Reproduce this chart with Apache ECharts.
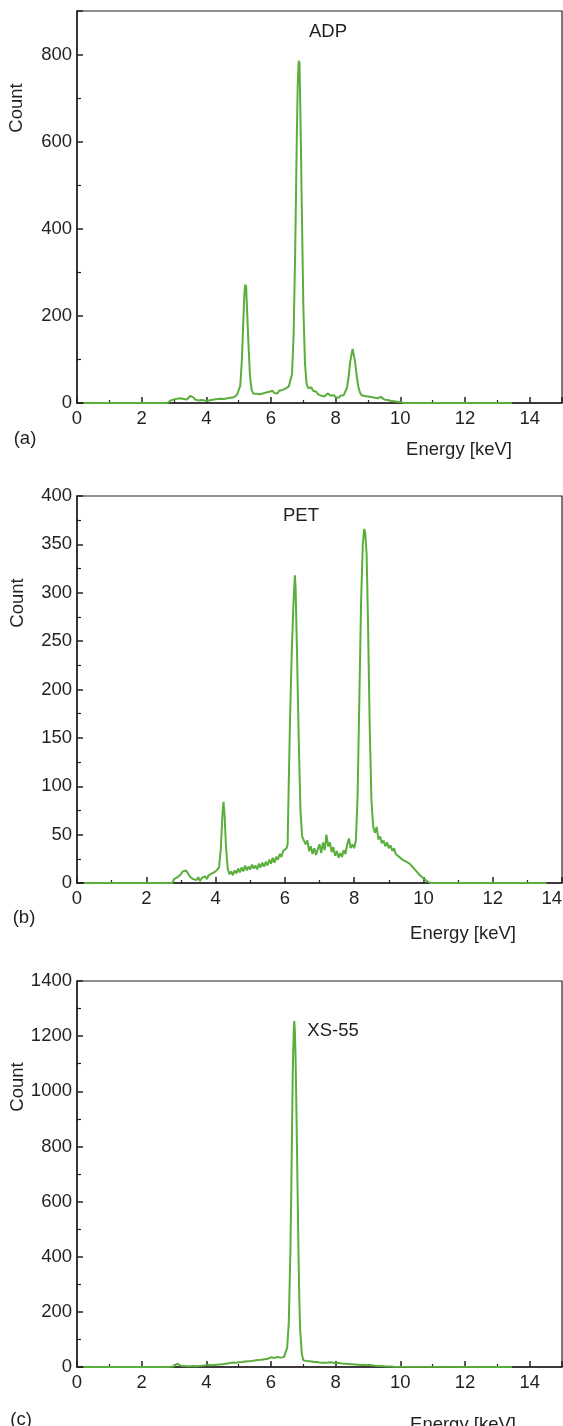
<!DOCTYPE html>
<html>
<head>
<meta charset="utf-8">
<script src="https://cdn.jsdelivr.net/npm/echarts@6/dist/echarts.min.js"></script>
<style>
html,body{margin:0;padding:0;background:#fff;}
#chart{width:563px;height:1426px;}
</style>
</head>
<body>
<div id="chart"></div>
<script>
// ---- data (energy keV, count) ----
const adpData = [[0.2,0],[2.8,0],[2.85,3],[2.9,6],[2.95,4],[3.0,8],[3.05,6],[3.1,10],[3.15,14],[3.2,11],[3.25,8],[3.3,9],[3.35,6],[3.4,8],[3.45,12],[3.5,16],[3.55,17],[3.6,13],[3.65,8],[3.7,5],[3.75,6],[3.8,4],[3.85,7],[3.9,5],[3.95,6],[4.0,8],[4.05,5],[4.1,9],[4.15,7],[4.2,10],[4.25,8],[4.3,11],[4.35,9],[4.4,13],[4.45,10],[4.5,12],[4.55,9],[4.6,13],[4.65,11],[4.7,14],[4.75,12],[4.8,15],[4.85,13],[4.9,17],[4.95,19],[5.0,22],[5.05,40],[5.1,100],[5.15,200],[5.175,248],[5.2,272],[5.215,262],[5.23,270],[5.25,232],[5.3,140],[5.35,62],[5.4,30],[5.45,22],[5.5,19],[5.55,21],[5.6,17],[5.65,20],[5.7,18],[5.75,22],[5.8,19],[5.85,24],[5.9,21],[5.95,26],[6.0,22],[6.05,28],[6.1,23],[6.15,26],[6.2,22],[6.25,28],[6.3,25],[6.35,30],[6.4,26],[6.45,33],[6.5,30],[6.55,38],[6.6,40],[6.65,66],[6.7,158],[6.75,357],[6.775,488],[6.8,618],[6.825,724],[6.85,775],[6.86,786],[6.87,770],[6.88,783],[6.9,706],[6.925,593],[6.95,460],[7.0,224],[7.05,92],[7.1,44],[7.15,34],[7.2,30],[7.25,36],[7.3,28],[7.35,24],[7.4,26],[7.45,20],[7.5,22],[7.55,17],[7.6,19],[7.65,15],[7.7,18],[7.75,22],[7.8,26],[7.85,17],[7.9,14],[7.95,18],[8.0,13],[8.05,16],[8.1,12],[8.15,17],[8.2,14],[8.25,18],[8.3,22],[8.35,35],[8.4,60],[8.45,95],[8.5,116],[8.525,124],[8.55,120],[8.6,95],[8.65,62],[8.7,38],[8.75,24],[8.8,18],[8.85,21],[8.9,16],[8.95,20],[9.0,15],[9.05,12],[9.1,14],[9.15,10],[9.2,12],[9.25,9],[9.3,11],[9.35,12],[9.4,14],[9.45,10],[9.5,8],[9.55,6],[9.6,7],[9.65,4],[9.7,5],[9.75,3],[9.8,4],[9.85,2],[9.9,3],[9.95,1],[10.0,2],[10.05,1],[10.1,0],[13.45,0]];

const petData = [[0.2,0],[2.75,0],[2.8,4],[2.85,2],[2.9,6],[2.95,5],[3.0,9],[3.05,12],[3.1,14],[3.15,13],[3.2,10],[3.25,7],[3.3,6],[3.35,4],[3.4,5],[3.45,3],[3.5,6],[3.55,2],[3.6,5],[3.65,3],[3.7,7],[3.75,4],[3.8,8],[3.85,6],[3.9,10],[3.95,8],[4.0,12],[4.05,10],[4.1,16],[4.15,35],[4.2,72],[4.23,84],[4.26,70],[4.3,38],[4.35,15],[4.4,9],[4.45,12],[4.5,8],[4.55,13],[4.6,10],[4.65,15],[4.7,11],[4.75,16],[4.8,12],[4.85,18],[4.9,13],[4.95,17],[5.0,14],[5.05,19],[5.1,15],[5.15,18],[5.2,14],[5.25,20],[5.3,16],[5.35,21],[5.4,17],[5.45,22],[5.5,18],[5.55,24],[5.6,20],[5.65,26],[5.7,21],[5.75,27],[5.8,24],[5.85,30],[5.9,27],[5.95,33],[6.0,31],[6.05,36],[6.08,40],[6.1,80],[6.15,170],[6.2,240],[6.25,290],[6.29,318],[6.31,305],[6.35,240],[6.4,150],[6.45,75],[6.5,48],[6.55,50],[6.6,40],[6.65,44],[6.7,33],[6.75,38],[6.8,30],[6.85,36],[6.9,29],[6.95,35],[7.0,40],[7.05,31],[7.1,42],[7.15,34],[7.2,50],[7.25,38],[7.3,42],[7.35,32],[7.4,37],[7.45,28],[7.5,33],[7.55,26],[7.6,31],[7.65,27],[7.7,34],[7.75,30],[7.8,40],[7.85,46],[7.9,36],[7.95,40],[8.0,36],[8.05,44],[8.1,90],[8.15,190],[8.2,290],[8.25,350],[8.29,366],[8.32,362],[8.36,340],[8.4,270],[8.45,160],[8.5,85],[8.55,58],[8.6,52],[8.65,58],[8.7,45],[8.75,48],[8.8,41],[8.85,44],[8.9,38],[8.95,42],[9.0,36],[9.05,39],[9.1,33],[9.15,36],[9.2,30],[9.25,32],[9.3,27],[9.35,29],[9.4,24],[9.45,26],[9.5,22],[9.55,24],[9.6,20],[9.65,22],[9.7,16],[9.75,18],[9.8,12],[9.85,14],[9.9,8],[9.95,9],[10.0,5],[10.05,4],[10.1,2],[10.15,1],[10.2,0],[13.55,0]];

const xsData = [[0.2,0],[2.8,0],[2.85,2],[2.9,1],[2.95,4],[3.0,3],[3.05,6],[3.1,12],[3.15,9],[3.2,5],[3.25,3],[3.3,4],[3.35,2],[3.4,3],[3.45,1],[3.5,3],[3.55,2],[3.6,4],[3.65,2],[3.7,3],[3.75,1],[3.8,4],[3.85,3],[3.9,5],[3.95,3],[4.0,6],[4.05,4],[4.1,7],[4.15,10],[4.2,6],[4.25,5],[4.3,8],[4.35,6],[4.4,9],[4.45,7],[4.5,10],[4.55,8],[4.6,12],[4.65,10],[4.7,14],[4.75,11],[4.8,16],[4.85,13],[4.9,15],[4.95,12],[5.0,17],[5.05,14],[5.1,18],[5.15,15],[5.2,20],[5.25,17],[5.3,21],[5.35,18],[5.4,22],[5.45,19],[5.5,24],[5.55,20],[5.6,25],[5.65,22],[5.7,26],[5.75,23],[5.8,28],[5.85,24],[5.9,30],[5.95,26],[6.0,35],[6.05,30],[6.1,33],[6.15,29],[6.2,36],[6.25,32],[6.3,34],[6.35,30],[6.4,36],[6.45,42],[6.5,70],[6.55,160],[6.6,420],[6.625,620],[6.65,860],[6.675,1080],[6.7,1210],[6.72,1255],[6.74,1215],[6.76,1120],[6.78,980],[6.8,820],[6.825,620],[6.85,420],[6.875,250],[6.9,140],[6.95,50],[7.0,24],[7.05,20],[7.1,22],[7.15,18],[7.2,21],[7.25,17],[7.3,19],[7.35,15],[7.4,18],[7.45,14],[7.5,16],[7.55,13],[7.6,15],[7.65,12],[7.7,15],[7.75,13],[7.8,17],[7.85,20],[7.9,16],[7.95,18],[8.0,14],[8.05,12],[8.1,15],[8.15,11],[8.2,13],[8.25,10],[8.3,12],[8.35,9],[8.4,11],[8.45,8],[8.5,10],[8.55,12],[8.6,9],[8.65,7],[8.7,8],[8.75,6],[8.8,7],[8.85,5],[8.9,7],[8.95,9],[9.0,6],[9.05,5],[9.1,6],[9.15,4],[9.2,5],[9.25,3],[9.3,4],[9.35,3],[9.4,4],[9.45,2],[9.5,3],[9.55,2],[9.6,2],[9.65,1],[9.7,2],[9.75,1],[9.8,1],[9.85,0],[13.45,0]];

const panelNames = ['ADP', 'PET', 'XS-55'];
const panelLetters = ['(a)', '(b)', '(c)'];
const xMaxes = [15, 14, 15];
const yMaxes = [900, 400, 1400];
const yIntervals = [200, 50, 200];

// ---- styling ----
const INK = '#231f20';
const GREEN = '#5aae3c';
const FONT = '"Liberation Sans", Arial, Helvetica, sans-serif';
const FS = 18.5;

const grids = [
  {left: 77, right: 1, top: 11, height: 392},
  {left: 77, right: 1, top: 496, height: 387},
  {left: 77, right: 1, top: 981, height: 386}
];

const chart = echarts.init(document.getElementById('chart'), null, {renderer: 'canvas'});

const xAxes = [], yAxes = [], series = [];
const datasets = [adpData, petData, xsData];
for (let i = 0; i < 3; i++) {
  const fullMax = xMaxes[i] % 2 === 0;
  xAxes.push({
    type: 'value', gridIndex: i, min: 0, max: xMaxes[i], interval: 2,
    axisLine: {show: true, onZero: false, lineStyle: {color: INK, width: 1.5}},
    axisTick: {show: true, inside: true, length: 6, lineStyle: {color: INK, width: 1.5}},
    minorTick: {show: true, splitNumber: 2, length: 3, lineStyle: {color: INK, width: 1.2}},
    axisLabel: Object.assign({color: INK, fontSize: FS, fontFamily: FONT, margin: 6, showMaxLabel: fullMax,
      formatter: v => String(v)}, fullMax ? {alignMaxLabel: 'right'} : {}),
    splitLine: {show: false}
  });
  yAxes.push({
    type: 'value', gridIndex: i, min: 0, max: yMaxes[i], interval: yIntervals[i],
    axisLine: {show: true, onZero: false, lineStyle: {color: INK, width: 1.5}},
    axisTick: {show: true, inside: true, length: 6, lineStyle: {color: INK, width: 1.5}},
    minorTick: {show: true, splitNumber: 2, length: 4, lineStyle: {color: INK, width: 1.2}},
    axisLabel: {color: INK, fontSize: FS, fontFamily: FONT, margin: 5, showMaxLabel: yMaxes[i] % yIntervals[i] === 0,
      formatter: v => String(v)},
    splitLine: {show: false}
  });
  series.push({
    type: 'line', xAxisIndex: i, yAxisIndex: i, data: datasets[i],
    showSymbol: false, symbol: 'none', smooth: false,
    lineStyle: {color: GREEN, width: 2}, silent: true
  });
}

const txt = (x, y, s, extra) => Object.assign({
  type: 'text', x: x, y: y,
  style: {text: s, fill: INK, font: FS + 'px ' + FONT, textAlign: 'center', textVerticalAlign: 'middle'}
}, extra || {});

const graphics = [
  txt(328, 32, panelNames[0]),
  txt(301, 516, panelNames[1]),
  txt(333, 1031, panelNames[2]),
  txt(17, 108, 'Count', {rotation: Math.PI / 2}),
  txt(18, 603, 'Count', {rotation: Math.PI / 2}),
  txt(18, 1087, 'Count', {rotation: Math.PI / 2}),
  txt(25, 439, panelLetters[0]),
  txt(24, 918, panelLetters[1]),
  txt(21, 1420, panelLetters[2]),
  txt(459, 450, 'Energy [keV]'),
  txt(463, 934, 'Energy [keV]'),
  txt(463, 1425, 'Energy [keV]')
];

chart.setOption({
  animation: false,
  backgroundColor: '#fff',
  grid: grids.map(g => Object.assign({show: true, borderColor: INK, borderWidth: 1.2, backgroundColor: 'transparent',
    containLabel: false, outerBoundsMode: 'none'}, g)),
  xAxis: xAxes,
  yAxis: yAxes,
  series: series,
  graphic: graphics
});
</script>
</body>
</html>
